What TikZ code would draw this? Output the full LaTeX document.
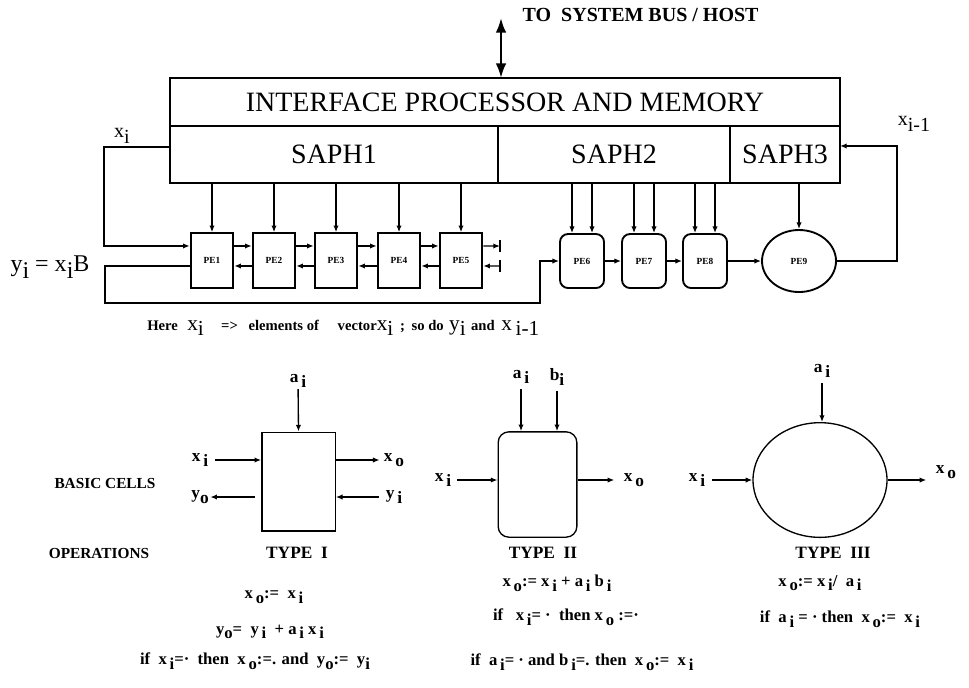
\documentclass[tikz,border=0pt]{standalone}
\usepackage{fontspec}
\setmainfont{Liberation Serif}
\usetikzlibrary{arrows.meta,shapes.geometric}
\newcommand{\sbs}[1]{\raisebox{-0.6ex}{#1}}
\newcommand{\smtxt}{\bfseries\fontsize{11}{12}\selectfont}
\newcommand{\bgtxt}{\mdseries\fontsize{16}{18}\selectfont}

\begin{document}
\begin{tikzpicture}[x=0.75pt,y=-0.75pt,
	>={Latex[length=5pt,width=4pt]},
	box/.style={draw,line width=1.6pt,inner sep=0pt,outer sep=0pt,minimum height=42.75pt,font=\fontsize{21}{24}\selectfont},
	pe/.style={draw,line width=1.4pt,inner sep=0pt,minimum width=32pt,minimum height=41pt,font=\bfseries\fontsize{7}{8}\selectfont},
	rpe/.style={pe,rounded corners=6pt,minimum width=33pt,minimum height=40.5pt},
	link/.style={->,line width=1pt},
	lab/.style={inner sep=1pt,font=\bfseries\fontsize{13}{15}\selectfont},
	cell/.style={draw,line width=1pt,inner sep=0pt},
	eqn/.style={inner sep=1pt,font=\bfseries\fontsize{12.5}{14}\selectfont}]
	\useasboundingbox (0,0) rectangle (969,687);

	% Define interface and SAPH blocks
	\node[box,minimum width=502.5pt,minimum height=36pt] (Iface) at (505,102) {INTERFACE PROCESSOR AND MEMORY};
	\node[box,minimum width=246pt] (SAPH1) at (334,154.5) {SAPH1};
	\node[box,minimum width=174pt] (SAPH2) at (614,154.5) {SAPH2};
	\node[box,minimum width=82.5pt] (SAPH3) at (785,154.5) {SAPH3};

	\coordinate (Bus) at (501,18);
	\node[font=\bfseries\fontsize{15}{17}\selectfont,anchor=west] (BusText) at (518,15) {TO\ \ SYSTEM BUS / HOST};
	\draw[{Latex[length=11pt,width=8pt]}-{Latex[length=11pt,width=8pt]},line width=1.8pt] (Bus) -- (Bus |- Iface.north);

	% Define PE1 ... PE5
	\foreach \i/\x in {1/212,2/274,3/336,4/399,5/461} {
		\node[pe] (PE\i) at (\x,260.5) {PE\i};
		\draw[link] (SAPH1.south -| PE\i) -- (PE\i.north);
	}
	\foreach \a/\b in {1/2,2/3,3/4,4/5} {
		\draw[link] ([yshift=10.9pt]PE\a.east) -- ([yshift=10.9pt]PE\b.west);
		\draw[link] ([yshift=-4.1pt]PE\b.west) -- ([yshift=-4.1pt]PE\a.east);
	}
	\coordinate (BarUp) at (500,246);
	\coordinate (BarDn) at (500,266);
	\draw[link] ([yshift=10.9pt]PE5.east) -- (BarUp);
	\draw[link] (BarDn) -- ([yshift=-4.1pt]PE5.east);
	\draw[line width=1pt] ([yshift=-4.5pt]BarUp) -- ([yshift=4.5pt]BarUp);
	\draw[line width=1pt] ([yshift=-4.5pt]BarDn) -- ([yshift=4.5pt]BarDn);

	% Define PE6 ... PE9
	\foreach \i/\x in {6/582,7/644,8/705} {
		\node[rpe] (PE\i) at (\x,261) {PE\i};
		\draw[link] ([xshift=-7.5pt]PE\i.north |- SAPH2.south) -- ([xshift=-7.5pt]PE\i.north);
		\draw[link] ([xshift=7.5pt]PE\i.north |- SAPH2.south) -- ([xshift=7.5pt]PE\i.north);
	}
	\node[pe,ellipse,minimum width=55.5pt,minimum height=46.5pt] (PE9) at (799,261) {PE9};
	\draw[link] (SAPH3.south -| PE9) -- (PE9.north);
	\draw[link] (PE6) -- (PE7);
	\draw[link] (PE7) -- (PE8);
	\draw[link] (PE8) -- (PE9);

	% Define feedback lines
	\coordinate (XiCorner) at (104,200);
	\coordinate (YiCorner) at (105,303);
	\coordinate (YiTurn) at (540,303);
	\coordinate (RetCorner) at (897,200);
	\node[font=\fontsize{15}{17}\selectfont] (XiTop) at (122,136) {x\sbs{i}};
	\node[font=\fontsize{15}{17}\selectfont] (XiPrev) at (914,124) {x\sbs{i-1}};
	\node[font=\fontsize{18}{20}\selectfont] (YiEq) at (50,267) {y\sbs{i} = x\sbs{i}B};
	\draw[link] ([yshift=5.6pt]SAPH1.west) -| (XiCorner) |- ([yshift=10.9pt]PE1.west);
	\draw[link] ([yshift=-4.1pt]PE1.west) -| (YiCorner) -- (YiTurn) |- (PE6.west);
	\draw[link] (PE9.east) -| (RetCorner) |- ([yshift=6.4pt]SAPH3.east);

	\node[inner sep=0pt,anchor=base west] (Note) at (147,330) {{\smtxt Here}\hspace{7pt}{\bgtxt x\sbs{i}}\hspace{13pt}{\smtxt =>}\hspace{8pt}{\smtxt elements of}\hspace{14pt}{\smtxt vector}{\bgtxt x\sbs{i}}\hspace{5pt}{\smtxt ;}\hspace{5pt}{\smtxt so do}\hspace{4pt}{\bgtxt y\sbs{i}}\hspace{4pt}{\smtxt and}\hspace{5pt}{\bgtxt x\,\sbs{i-1}}};

	% Define TYPE I cell
	\node[lab,font=\bfseries\fontsize{11.5}{13}\selectfont] (Basic) at (105,483) {BASIC CELLS};
	\node[lab,font=\bfseries\fontsize{11.5}{13}\selectfont] (Oper) at (99,553) {OPERATIONS};
	\node[cell,minimum width=55pt,minimum height=74pt] (TypeOne) at (298.5,481.5) {};
	\node[lab] (AOne) at (298,381) {a\,\sbs{i}};
	\node[lab] (LXiOne) at (200,460) {x\,\sbs{i}};
	\node[lab] (LYoOne) at (200,497) {y\sbs{o}};
	\node[lab] (LXoOne) at (394,460) {x\,\sbs{o}};
	\node[lab] (LYiOne) at (394,497) {y\,\sbs{i}};
	\draw[link] (AOne) -- (TypeOne.north);
	\draw[link,shorten <=4pt] (LXiOne) -- (LXiOne -| TypeOne.west);
	\draw[link,shorten <=5pt] (LYoOne -| TypeOne.west) -- (LYoOne);
	\draw[link,shorten >=2pt] (LXoOne -| TypeOne.east) -- (LXoOne);
	\draw[link,shorten <=4pt] (LYiOne) -- (LYiOne -| TypeOne.east);
	\node[lab] (TOne) at (297,553) {TYPE\ \ I};
	\node[eqn] (EqOneA) at (274,597) {x\,\sbs{o}:= \ x\,\sbs{i}};
	\node[eqn] (EqOneB) at (270,632) {y\sbs{o}= \ y\,\sbs{i} \ + a\,\sbs{i} x\,\sbs{i}};
	\node[eqn] (EqOneC) at (255,661) {if \ x\,\sbs{i}=· \ then \ x\,\sbs{o}:=. and \ y\sbs{o}:= \ y\sbs{i}};

	% Define TYPE II cell
	\node[cell,rounded corners=8pt,minimum width=59pt,minimum height=79pt] (TypeTwo) at (537.5,484.5) {};
	\node[lab] (ATwo) at (521,377) {a\,\sbs{i}};
	\node[lab] (BTwo) at (557,377) {b\sbs{i}};
	\node[lab] (LXiTwo) at (443,480) {x\,\sbs{i}};
	\node[lab] (LXoTwo) at (634,480) {x\,\sbs{o}};
	\draw[link,shorten <=3pt] (ATwo) -- (ATwo |- TypeTwo.north);
	\draw[link,shorten <=3pt] (BTwo) -- (BTwo |- TypeTwo.north);
	\draw[link,shorten <=3pt] (LXiTwo) -- (LXiTwo -| TypeTwo.west);
	\draw[link,shorten >=6pt] (LXiTwo -| TypeTwo.east) -- (LXoTwo);
	\node[lab] (TTwo) at (543,553) {TYPE\ \ II};
	\node[eqn] (EqTwoA) at (557,583) {x\,\sbs{o}:= x\,\sbs{i} + a\,\sbs{i} b\,\sbs{i}};
	\node[eqn] (EqTwoB) at (566,617) {if \ \ x\,\sbs{i}= · \ then x\,\sbs{o} :=·};
	\node[eqn] (EqTwoC) at (582,662) {if \ a\,\sbs{i}= · and b\,\sbs{i}=. then \ x\,\sbs{o}:= \ x\,\sbs{i}};

	% Define TYPE III cell
	\node[cell,ellipse,minimum width=100.5pt,minimum height=86pt] (TypeThree) at (820,480) {};
	\node[lab] (AThree) at (822,371) {a\,\sbs{i}};
	\node[lab] (LXiThree) at (697,480) {x\,\sbs{i}};
	\node[lab] (LXoThree) at (946,472) {x\,\sbs{o}};
	\draw[link,shorten <=3pt] (AThree) -- (AThree |- TypeThree.north);
	\draw[link,shorten <=4pt] (LXiThree) -- (TypeThree.west);
	\draw[link,shorten >=6pt] (TypeThree.east) -- (TypeThree.east -| LXoThree.west);
	\node[lab] (TThree) at (833,553) {TYPE\ \ III};
	\node[eqn] (EqThreeA) at (820,583) {x\,\sbs{o}:= x\,\sbs{i}/ \ a\,\sbs{i}};
	\node[eqn] (EqThreeB) at (840,619) {if \ a\,\sbs{i} = · then \ x\,\sbs{o}:= \ x\,\sbs{i}};
\end{tikzpicture}
\end{document}
